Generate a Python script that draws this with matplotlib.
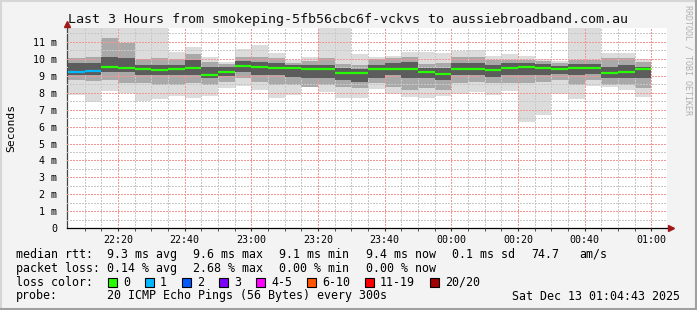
# -*- coding: utf-8 -*-
import matplotlib
matplotlib.use('Agg')
import matplotlib.pyplot as plt
from matplotlib.lines import Line2D
from matplotlib.patches import Rectangle
import numpy as np

plt.rcParams['font.family'] = ['DejaVu Sans Mono']

# 5 minute bins, minutes after 22:00
bin_start = np.arange(5, 180, 5)
median = [9.23, 9.29, 9.51, 9.46, 9.40, 9.36, 9.41, 9.46, 9.05, 9.23, 9.59, 9.53,
          9.47, 9.46, 9.40, 9.40, 9.18, 9.18, 9.41, 9.41, 9.41, 9.19, 9.11, 9.41,
          9.41, 9.36, 9.46, 9.52, 9.46, 9.40, 9.45, 9.46, 9.18, 9.23, 9.40]
ping_max = [12.5, 12.5, 12.5, 12.5, 12.5, 12.5, 10.38, 10.71, 10.12, 9.83, 10.57, 10.8,
            10.34, 9.94, 10.08, 12.5, 12.5, 10.26, 10.12, 10.16, 10.41, 10.41, 10.34, 10.46,
            10.51, 10.15, 10.28, 10.14, 10.0, 9.87, 12.5, 12.5, 10.32, 10.32, 10.0]
ping_min = [7.88, 7.47, 8.11, 8.0, 7.5, 7.62, 7.82, 7.7, 7.82, 8.29, 8.41, 8.18,
            7.68, 7.88, 8.31, 8.06, 7.68, 7.7, 8.2, 7.92, 7.76, 7.71, 7.78, 7.94,
            8.05, 7.88, 8.11, 6.29, 6.68, 7.94, 7.64, 8.42, 8.33, 8.15, 7.74]
p90 = [10.02, 10.1, 11.2, 10.9, 9.96, 10.02, 9.96, 10.28, 9.82, 9.67, 10.12, 10.08,
       10.02, 9.73, 9.86, 10.02, 9.67, 9.63, 9.96, 10.02, 10.12, 9.67, 9.73, 10.12,
       10.12, 9.92, 9.92, 9.92, 9.86, 9.73, 9.92, 9.92, 10.02, 10.02, 9.82]
p75 = [9.73, 9.75, 10.12, 10.02, 9.63, 9.63, 9.63, 9.92, 9.53, 9.5, 9.86, 9.82,
       9.73, 9.63, 9.63, 9.63, 9.43, 9.39, 9.63, 9.73, 9.82, 9.47, 9.43, 9.73,
       9.73, 9.63, 9.73, 9.73, 9.67, 9.6, 9.67, 9.67, 9.53, 9.63, 9.53]
p25 = [9.04, 9.05, 9.24, 9.24, 9.04, 9.04, 9.04, 9.04, 8.84, 9.0, 9.24, 9.04,
       9.04, 8.94, 8.84, 8.84, 8.75, 8.65, 8.84, 9.04, 8.84, 8.84, 8.75, 9.04,
       9.04, 8.94, 9.04, 9.04, 9.04, 9.08, 9.04, 9.08, 8.84, 8.84, 8.84]
p10 = [8.75, 8.7, 8.74, 8.55, 8.55, 8.45, 8.47, 8.55, 8.45, 8.6, 8.84, 8.65,
       8.45, 8.45, 8.35, 8.45, 8.35, 8.25, 8.55, 8.35, 8.16, 8.25, 8.16, 8.55,
       8.65, 8.55, 8.55, 8.55, 8.6, 8.75, 8.47, 8.75, 8.47, 8.45, 8.3]
loss = [1, 1] + [0] * 33

xtick_pos = [20, 40, 60, 80, 100, 120, 140, 160, 180]
xtick_labels = ['22:20', '22:40', '23:00', '23:20', '23:40', '00:00', '00:20', '00:40', '01:00']
ytick_pos = list(range(12))
ytick_labels = ['0'] + ['%d m' % v for v in range(1, 12)]

loss_names = ['0', '1', '2', '3', '4-5', '6-10', '11-19', '20/20']
loss_colors = ['#26ff00', '#00b8ff', '#0059ff', '#7e00ff', '#ff00ff', '#ff5500', '#ff0000', '#a00000']

W, H = 697, 310
fig = plt.figure(figsize=(W / 100, H / 100), dpi=100, facecolor='#f3f3f3')


def fx(px):
    return px / W


def fy(py):
    return 1 - py / H


ax = fig.add_axes([fx(67), fy(228.3), fx(600), (228.3 - 27.7) / H])
ax.set_facecolor('white')
ax.set_xlim(4.717, 184.717)
ax.set_ylim(0, 11.83)

# smoke
ax.bar(bin_start, np.array(ping_max) - np.array(ping_min), bottom=ping_min, width=5,
       align='edge', color='#dcdcdc', linewidth=0, zorder=1)
ax.bar(bin_start, np.array(p90) - np.array(p10), bottom=p10, width=5,
       align='edge', color='#a9a9a9', linewidth=0, zorder=2)
ax.bar(bin_start, np.array(p75) - np.array(p25), bottom=p25, width=5,
       align='edge', color='#5c5c5c', linewidth=0, zorder=3)
# median line coloured by loss
ax.hlines(median, bin_start, bin_start + 5, colors=[loss_colors[l] for l in loss],
          linewidth=1.6, zorder=6)

# grid
ax.set_xticks(xtick_pos)
ax.set_xticklabels(xtick_labels)
ax.set_xticks(np.arange(10, 185, 5), minor=True)
ax.set_yticks(ytick_pos)
ax.set_yticklabels(ytick_labels)
ax.set_yticks(np.arange(0.5, 11.9, 1), minor=True)
ax.grid(True, which='minor', color='#c8c8c8', linestyle=(0, (1.4, 1.4)), linewidth=0.72,
        antialiased=False, zorder=4)
ax.grid(True, which='major', color='#f29696', linestyle=(0, (1.4, 1.4)), linewidth=0.72,
        antialiased=False, zorder=5)
ax.set_axisbelow(False)
ax.tick_params(axis='both', which='both', labelsize=7.2, color='#333333')
ax.tick_params(axis='x', which='major', length=2.5, pad=2.5)
ax.tick_params(axis='x', which='minor', length=2)
ax.tick_params(axis='y', which='both', length=0, pad=7)

for s in ['top', 'right']:
    ax.spines[s].set_visible(False)
ax.spines['left'].set_color('#444444')
ax.spines['bottom'].set_color('black')
ax.spines['left'].set_linewidth(0.9)
ax.spines['bottom'].set_linewidth(0.9)
ax.plot([0], [1.018], transform=ax.transAxes, marker='^', color='#a01818',
        markersize=4.5, clip_on=False, zorder=10)
ax.plot([1.007], [0], transform=ax.transAxes, marker='>', color='#a01818',
        markersize=4.5, clip_on=False, zorder=10)

ax.set_ylabel('Seconds', fontsize=8.2, labelpad=12)

# title and side text
fig.text(fx(348), fy(19.5), 'Last 3 Hours from smokeping-5fb56cbc6f-vckvs to aussiebroadband.com.au',
         fontsize=9.6, ha='center', va='center', color='#111111')
fig.text(fx(688), fy(5), 'RRDTOOL / TOBI OETIKER', fontsize=6, rotation=270,
         ha='center', va='top', color='#b0b0b0')

# legend rows
fs = 8.4
cols = [107, 193, 279, 366, 452, 531, 579]
row1 = ['9.3 ms avg', '9.6 ms max', '9.1 ms min', '9.4 ms now', '0.1 ms sd', '74.7', 'am/s']
row2 = ['0.14 % avg', '2.68 % max', '0.00 % min', '0.00 % now']
fig.text(fx(16), fy(254.3), 'median rtt:', fontsize=fs, va='center')
for c, t in zip(cols, row1):
    fig.text(fx(c), fy(254.3), t, fontsize=fs, va='center')
fig.text(fx(16), fy(268.3), 'packet loss:', fontsize=fs, va='center')
for c, t in zip(cols, row2):
    fig.text(fx(c), fy(268.3), t, fontsize=fs, va='center')

fig.text(fx(16), fy(282.3), 'loss color:', fontsize=fs, va='center')
bx = 108
for name, col in zip(loss_names, loss_colors):
    fig.patches.append(Rectangle((fx(bx), fy(287)), fx(9), 9 / H, facecolor=col,
                                 edgecolor='black', linewidth=0.8, transform=fig.transFigure))
    fig.text(fx(bx + 15), fy(282.3), name, fontsize=fs, va='center')
    bx = bx + 15 + 7 * len(name) + 15

fig.text(fx(16), fy(296), 'probe:', fontsize=fs, va='center')
fig.text(fx(107), fy(296), '20 ICMP Echo Pings (56 Bytes) every 300s', fontsize=fs, va='center')
fig.text(fx(680), fy(296), 'Sat Dec 13 01:04:43 2025', fontsize=fs, va='center', ha='right')

# 3d frame
fig.lines.append(Line2D([0, 1], [fy(0.8), fy(0.8)], transform=fig.transFigure, color='#d6d6d6', linewidth=1.5))
fig.lines.append(Line2D([fx(0.8), fx(0.8)], [0, 1], transform=fig.transFigure, color='#d6d6d6', linewidth=1.5))
fig.lines.append(Line2D([0, 1], [fy(309), fy(309)], transform=fig.transFigure, color='#a0a0a0', linewidth=1.5))
fig.lines.append(Line2D([fx(696), fx(696)], [0, 1], transform=fig.transFigure, color='#a0a0a0', linewidth=1.5))

fig.savefig('out.png', dpi=100, facecolor=fig.get_facecolor())
